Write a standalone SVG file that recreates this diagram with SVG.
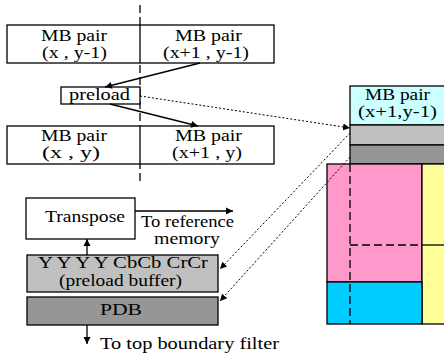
<svg xmlns="http://www.w3.org/2000/svg" width="444" height="354" viewBox="0 0 444 354">
<defs>
<marker id="ah" markerWidth="8" markerHeight="8" refX="7" refY="4" orient="auto" markerUnits="userSpaceOnUse">
<path d="M0,0.5 L7,4 L0,7.5 Z" fill="#000"/>
</marker>
</defs>
<style>
text{font-family:'Liberation Serif','Times New Roman',serif;font-size:16px;fill:#000}
.box{stroke:#000;stroke-width:1.3}
.w{fill:#fff}
.lg{fill:#c0c0c0}
.dg{fill:#969696}
.dash{stroke:#000;stroke-width:1.3;stroke-dasharray:8 4;fill:none}
.sol{stroke:#000;stroke-width:1.3;fill:none}
.dot{stroke:#000;stroke-width:1;stroke-dasharray:2 2;fill:none}
</style>
<g font-family="Liberation Serif, Times New Roman, serif" font-size="16">
<line class="dash" x1="140" y1="5" x2="140" y2="185"/>
<g id="mb-top">
<rect class="box w" x="7" y="25" width="267" height="38"/>
<line class="sol" x1="140" y1="25" x2="140" y2="63"/>
<text x="41" y="41" textLength="66" lengthAdjust="spacingAndGlyphs">MB pair</text>
<text x="42" y="58" textLength="65" lengthAdjust="spacingAndGlyphs">(x , y-1)</text>
<text x="175" y="41" textLength="67" lengthAdjust="spacingAndGlyphs">MB pair</text>
<text x="163" y="58" textLength="86" lengthAdjust="spacingAndGlyphs">(x+1 , y-1)</text>
</g>
<g id="preload">
<rect class="box w" x="61" y="87" width="79" height="17"/>
<text x="69" y="100" textLength="61" lengthAdjust="spacingAndGlyphs">preload</text>
</g>
<g id="mb-bottom">
<rect class="box w" x="7" y="126" width="267" height="38"/>
<line class="sol" x1="140" y1="126" x2="140" y2="164"/>
<text x="41" y="141" textLength="66" lengthAdjust="spacingAndGlyphs">MB pair</text>
<text x="42" y="158" textLength="58" lengthAdjust="spacingAndGlyphs">(x , y)</text>
<text x="175" y="141" textLength="67" lengthAdjust="spacingAndGlyphs">MB pair</text>
<text x="172" y="158" textLength="70" lengthAdjust="spacingAndGlyphs">(x+1 , y)</text>
</g>
<g id="right-panel">
<rect x="350" y="86" width="100" height="39" fill="#ccffff" class="box"/>
<rect x="350" y="125" width="100" height="20" class="box lg"/>
<rect x="350" y="145" width="100" height="19" class="box dg"/>
<rect x="327" y="164" width="95" height="118" fill="#ff99cc" class="box"/>
<rect x="422" y="164" width="30" height="160" fill="#ffff99" class="box"/>
<rect x="327" y="282" width="95" height="42" fill="#00ccff" class="box"/>
<line class="dash" x1="350" y1="164" x2="350" y2="324"/>
<line class="dash" x1="350" y1="245" x2="422" y2="245"/>
<line class="sol" x1="422" y1="245" x2="444" y2="245"/>
<text x="365" y="100" textLength="65" lengthAdjust="spacingAndGlyphs">MB pair</text>
<text x="358" y="117" textLength="79" lengthAdjust="spacingAndGlyphs">(x+1,y-1)</text>
</g>
<g id="transpose">
<rect class="box w" x="26" y="198" width="109" height="41"/>
<text x="45" y="222" textLength="80" lengthAdjust="spacingAndGlyphs">Transpose</text>
</g>
<g id="preload-buffer">
<rect class="box lg" x="27" y="255" width="191" height="37"/>
<text x="38" y="268" textLength="170" lengthAdjust="spacingAndGlyphs">Y Y Y Y CbCb CrCr</text>
<text x="59" y="286" textLength="123" lengthAdjust="spacingAndGlyphs">(preload buffer)</text>
</g>
<g id="pdb">
<rect class="box dg" x="27" y="297" width="191" height="28"/>
<text x="100" y="315" textLength="42" lengthAdjust="spacingAndGlyphs">PDB</text>
</g>
<g id="labels">
<text x="141" y="227" textLength="93" lengthAdjust="spacingAndGlyphs">To reference</text>
<text x="154" y="244" textLength="66" lengthAdjust="spacingAndGlyphs">memory</text>
<text x="100" y="349" textLength="179" lengthAdjust="spacingAndGlyphs">To top boundary filter</text>
</g>
<g id="connectors">
<line class="sol" x1="200" y1="63" x2="105" y2="87" marker-end="url(#ah)"/>
<line class="sol" x1="110" y1="104" x2="198" y2="126" marker-end="url(#ah)"/>
<line class="dot" x1="140" y1="96" x2="350" y2="128" marker-end="url(#ah)"/>
<line class="dot" x1="350" y1="133" x2="220" y2="269" marker-end="url(#ah)"/>
<line class="dot" x1="350" y1="157" x2="220" y2="301" marker-end="url(#ah)"/>
<line class="sol" x1="135" y1="211" x2="233" y2="211" marker-end="url(#ah)"/>
<line class="sol" x1="87" y1="255" x2="87" y2="239" marker-end="url(#ah)"/>
<line class="sol" x1="87" y1="325" x2="87" y2="344" marker-end="url(#ah)"/>
</g>
</g>
</svg>
